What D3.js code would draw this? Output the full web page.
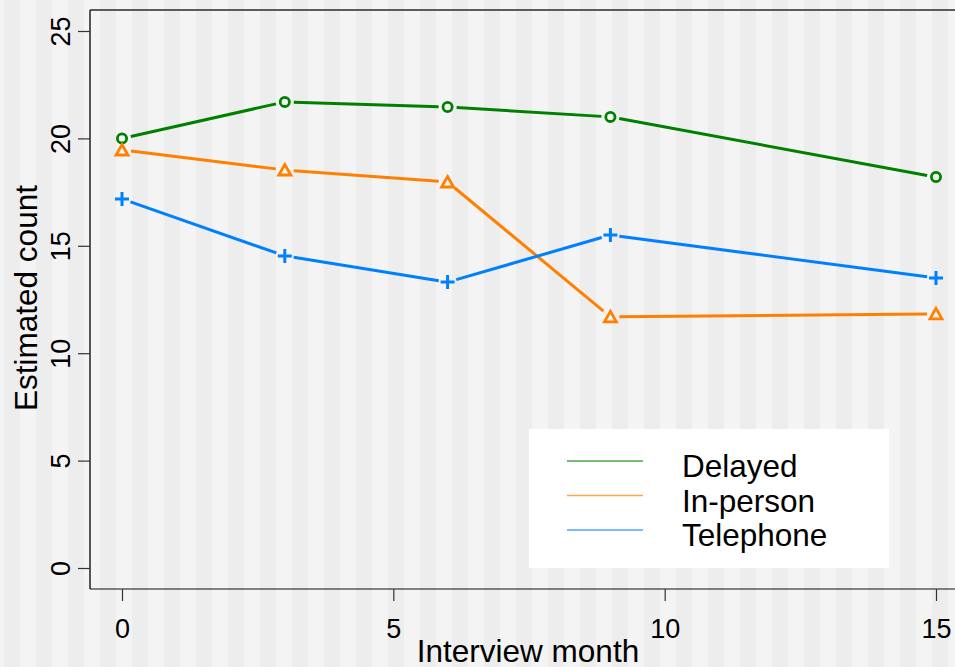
<!DOCTYPE html>
<html>
<head>
<meta charset="utf-8">
<script src="https://cdn.jsdelivr.net/npm/d3@7"></script>
<style>
  html,body{margin:0;padding:0;background:#f4f4f4;}
  svg{display:block;font-family:"Liberation Sans",Arial,sans-serif;}
</style>
</head>
<body>
<script>
/* estimated counts by interview month, three survey modes */
const months    = [0, 3, 6, 9, 15];
const delayed   = [20.0, 21.7, 21.46, 21.0, 18.2];
const inPerson  = [19.46, 18.53, 17.97, 11.69, 11.83];
const telephone = [17.18, 14.53, 13.31, 15.5, 13.5];
const seriesNames = ["Delayed", "In-person", "Telephone"];
const xTicks = [0, 5, 10, 15];
const yTicks = [0, 5, 10, 15, 20, 25];

(() => {
  const W = 955, H = 667;
  const COL = {"Delayed":"#008000","In-person":"#ff8000","Telephone":"#0080ff"};
  const SYM = {"Delayed":"circle","In-person":"triangle","Telephone":"plus"};

  const series = [
    {name:"Delayed",   vals:delayed},
    {name:"In-person", vals:inPerson},
    {name:"Telephone", vals:telephone}
  ];

  const svg = d3.select("body").append("svg").attr("width",W).attr("height",H);

  /* striped background */
  const pat = svg.append("defs").append("pattern").attr("id","stripes")
    .attr("patternUnits","userSpaceOnUse").attr("x",4).attr("y",0)
    .attr("width",32).attr("height",H);
  pat.append("rect").attr("width",32).attr("height",H).attr("fill","#f4f4f4");
  pat.append("rect").attr("width",16).attr("height",H).attr("fill","#ededed");
  svg.append("rect").attr("width",W).attr("height",H).attr("fill","url(#stripes)");

  const x = d3.scaleLinear().domain([0,15]).range([122,936]);
  const y = d3.scaleLinear().domain([0,25]).range([568,31]);
  const pLeft = 90, pTop = 10, pBottom = 589;

  /* frame */
  svg.append("line").attr("x1",pLeft).attr("x2",W).attr("y1",pTop).attr("y2",pTop)
    .attr("stroke","#5a5a5a").attr("stroke-width",2);
  svg.append("line").attr("x1",pLeft).attr("x2",pLeft).attr("y1",pTop).attr("y2",pBottom)
    .attr("stroke","#222").attr("stroke-width",1.5);
  svg.append("line").attr("x1",pLeft).attr("x2",W).attr("y1",pBottom).attr("y2",pBottom)
    .attr("stroke","#111").attr("stroke-width",1.2);

  /* y axis */
  const yAx = svg.append("g").attr("transform",`translate(${pLeft},0)`)
    .call(d3.axisLeft(y).tickValues(yTicks).tickSize(12).tickPadding(0).tickFormat(d3.format("d")));
  yAx.select(".domain").remove();
  yAx.selectAll(".tick line").attr("stroke","#333").attr("stroke-width",1.2);
  yAx.selectAll(".tick text").attr("x",null).attr("dy",null)
    .attr("transform","translate(-20,0) rotate(-90)")
    .attr("text-anchor","middle").attr("font-size",27).attr("fill","#000");

  /* x axis */
  const xAx = svg.append("g").attr("transform",`translate(0,${pBottom})`)
    .call(d3.axisBottom(x).tickValues(xTicks).tickSize(12).tickPadding(0).tickFormat(d3.format("d")));
  xAx.select(".domain").remove();
  xAx.selectAll(".tick line").attr("stroke","#333").attr("stroke-width",1.2);
  xAx.selectAll(".tick text").attr("y",49).attr("dy",null)
    .attr("font-size",27).attr("fill","#000");

  /* titles */
  svg.append("text").attr("x",528).attr("y",662).attr("text-anchor","middle")
    .attr("font-size",31.5).text("Interview month");
  svg.append("text").attr("transform","translate(37,298) rotate(-90)")
    .attr("text-anchor","middle").attr("font-size",31.5).text("Estimated count");

  /* lines with gaps at markers */
  const GAP = 9;
  const plot = svg.append("g");
  series.forEach(s=>{
    const pts = months.map((m,i)=>[x(m), y(s.vals[i])]);
    const segs = d3.pairs(pts).map(([a,b])=>{
      const dx=b[0]-a[0], dy=b[1]-a[1], L=Math.hypot(dx,dy);
      const ux=dx/L, uy=dy/L;
      return [a[0]+ux*GAP, a[1]+uy*GAP, b[0]-ux*GAP, b[1]-uy*GAP];
    });
    plot.selectAll(null).data(segs).enter().append("line")
      .attr("x1",d=>d[0]).attr("y1",d=>d[1]).attr("x2",d=>d[2]).attr("y2",d=>d[3])
      .attr("stroke",COL[s.name]).attr("stroke-width",3);

    const mk = plot.selectAll(null).data(pts).enter().append("g")
      .attr("transform",d=>`translate(${d[0]},${d[1]})`);
    if(SYM[s.name]==="circle"){
      mk.append("circle").attr("r",4.6).attr("fill","none")
        .attr("stroke",COL[s.name]).attr("stroke-width",2.8);
    } else if(SYM[s.name]==="triangle"){
      mk.append("path").attr("d","M0,-5.5L6,5L-6,5Z").attr("fill","none")
        .attr("stroke",COL[s.name]).attr("stroke-width",2.8).attr("stroke-linejoin","miter");
    } else {
      mk.append("path").attr("d","M-7,0H7M0,-7V7").attr("fill","none")
        .attr("stroke",COL[s.name]).attr("stroke-width",3);
    }
  });

  /* legend */
  const lg = svg.append("g");
  lg.append("rect").attr("x",529).attr("y",429).attr("width",360).attr("height",139).attr("fill","#fff");
  const row = lg.selectAll(null).data(seriesNames).enter().append("g")
    .attr("transform",(d,i)=>`translate(0,${461 + i*34.5})`);
  row.append("line").attr("x1",567).attr("x2",643).attr("y1",0).attr("y2",0)
    .attr("stroke",d=>COL[d]).attr("stroke-width",1.5).attr("stroke-opacity",0.7);
  row.append("text").attr("x",682).attr("y",16).attr("font-size",31.5).text(d=>d);
})();
</script>
</body>
</html>
